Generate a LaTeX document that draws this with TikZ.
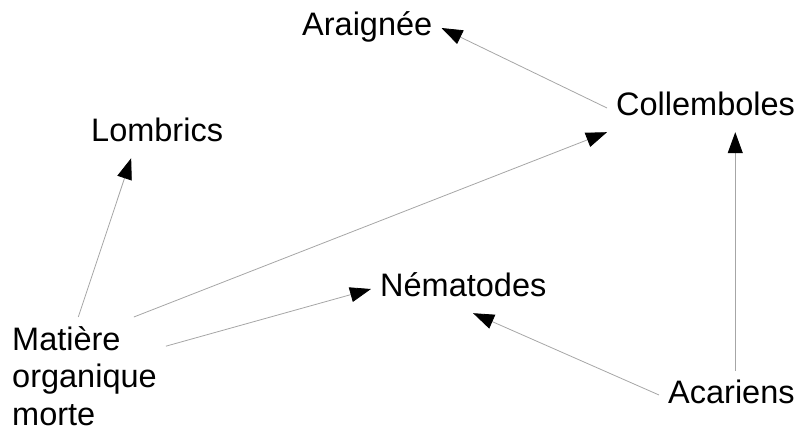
\documentclass[tikz,border=0pt]{standalone}
\usepackage{fontspec}
\setmainfont{Liberation Sans}
\usetikzlibrary{arrows.meta}
\begin{document}
\begin{tikzpicture}[
    x=1pt,
    y=-1pt,
    font=\fontsize{32.5}{37.5}\selectfont,
    t/.style={inner sep=9pt, text height=23pt, text depth=7pt, anchor=base west},
    m/.style={inner sep=9pt, align=left, anchor=north west},
    e/.style={draw=black!35, line width=0.8pt, -{Triangle[color=black, length=21pt, width=15pt]}},
]
    \useasboundingbox (0, 0) rectangle (800, 435);

    \node[t] (ara) at (293, 36) {Araignée};
    \node[t] (col) at (607, 116) {Collemboles};
    \node[t] (lom) at (82, 142) {Lombrics};
    \node[t] (nem) at (371, 297) {Nématodes};
    \node[t] (aca) at (659, 403) {Acariens};
    \node[m] (mat) at (3, 317) {Matière\\organique\\morte};

    \draw[e] (col.west) -- (ara.east);
    \draw[e] (mat.50) -- (col.south west);
    \draw[e] (mat.96) -- (lom.223);
    \draw[e] (mat.20) -- (nem.west);
    \draw[e] (aca.west) -- (nem.292);
    \draw[e] (aca.81) -- (aca.81 |- col.south);
\end{tikzpicture}
\end{document}
